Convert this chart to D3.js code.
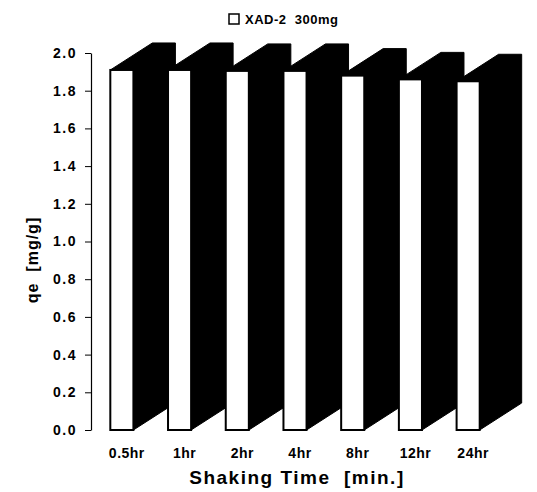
<!DOCTYPE html>
<html>
<head>
<meta charset="utf-8">
<script src="https://cdn.jsdelivr.net/npm/d3@7"></script>
<style>
  body { margin: 0; background: #fff; }
  text { font-family: "Liberation Sans", Arial, sans-serif; font-weight: bold; fill: #000; white-space: pre; }
</style>
</head>
<body>
<svg width="537" height="492"></svg>
<script>
var categories = ["0.5hr", "1hr", "2hr", "4hr", "8hr", "12hr", "24hr"];
var values = [1.91, 1.91, 1.905, 1.905, 1.88, 1.86, 1.85];
var yTicks = [0, 0.2, 0.4, 0.6, 0.8, 1.0, 1.2, 1.4, 1.6, 1.8, 2.0];
var seriesName = "XAD-2  300mg";

var svg = d3.select("svg");
var depthX = 42, depthY = -27;

var x = d3.scaleBand()
    .domain(categories)
    .range([93, 497])
    .paddingInner(0.6)
    .paddingOuter(0.3);

var y = d3.scaleLinear()
    .domain([0, 2])
    .range([430, 53]);

// bars, left to right so each front hides the previous depth
var bar = svg.selectAll(".bar")
  .data(values)
  .enter()
  .append("g")
    .attr("class", "bar");

bar.append("path")
    .attr("d", function(d, i) {
      var x0 = x(categories[i]), x1 = x0 + x.bandwidth();
      var top = y(d), bot = y(0);
      return "M" + x0 + "," + top +
             "L" + (x0 + depthX) + "," + (top + depthY) +
             "L" + (x1 + depthX) + "," + (top + depthY) +
             "L" + (x1 + depthX) + "," + (bot + depthY) +
             "L" + x1 + "," + bot +
             "L" + x1 + "," + top + "Z";
    })
    .attr("fill", "#000")
    .attr("stroke", "#000")
    .attr("stroke-width", 1);

bar.append("rect")
    .attr("x", function(d, i) { return x(categories[i]); })
    .attr("y", function(d) { return y(d); })
    .attr("width", x.bandwidth())
    .attr("height", function(d) { return y(0) - y(d); })
    .attr("fill", "#fff")
    .attr("stroke", "#000")
    .attr("stroke-width", 2);

// y axis
var yAxis = svg.append("g")
    .attr("transform", "translate(91,0)")
    .call(d3.axisLeft(y).tickValues(yTicks).tickFormat(d3.format(".1f")).tickSize(6).tickSizeOuter(0));

yAxis.select(".domain").attr("stroke", "#000").attr("stroke-width", 1.2);
yAxis.selectAll(".tick line").attr("stroke", "#000");
yAxis.selectAll(".tick text")
    .attr("x", -14)
    .style("font-size", "14px")
    .style("letter-spacing", "1.5px")
    .style("font-family", "'Liberation Sans', Arial, sans-serif")
    .style("font-weight", "bold");

// x labels
svg.selectAll(".xlabel")
  .data(categories)
  .enter()
  .append("text")
    .attr("class", "xlabel")
    .attr("x", function(d) { return x(d) + x.bandwidth() / 2 + 5; })
    .attr("y", 458)
    .attr("text-anchor", "middle")
    .style("font-size", "14px")
    .style("letter-spacing", "0.5px")
    .text(function(d) { return d; });

// axis titles
svg.append("text")
    .attr("x", 297)
    .attr("y", 484)
    .attr("text-anchor", "middle")
    .style("font-size", "19px")
    .style("letter-spacing", "1.5px")
    .text("Shaking Time  [min.]");

svg.append("text")
    .attr("transform", "translate(38,260) rotate(-90)")
    .attr("text-anchor", "middle")
    .style("font-size", "16px")
    .style("letter-spacing", "1px")
    .text("qe  [mg/g]");

// legend
svg.append("rect")
    .attr("x", 229)
    .attr("y", 14)
    .attr("width", 10)
    .attr("height", 10)
    .attr("fill", "#fff")
    .attr("stroke", "#000")
    .attr("stroke-width", 1.5);

svg.append("text")
    .attr("x", 245)
    .attr("y", 24)
    .style("font-size", "13px")
    .style("letter-spacing", "0.5px")
    .text(seriesName);
</script>
</body>
</html>
